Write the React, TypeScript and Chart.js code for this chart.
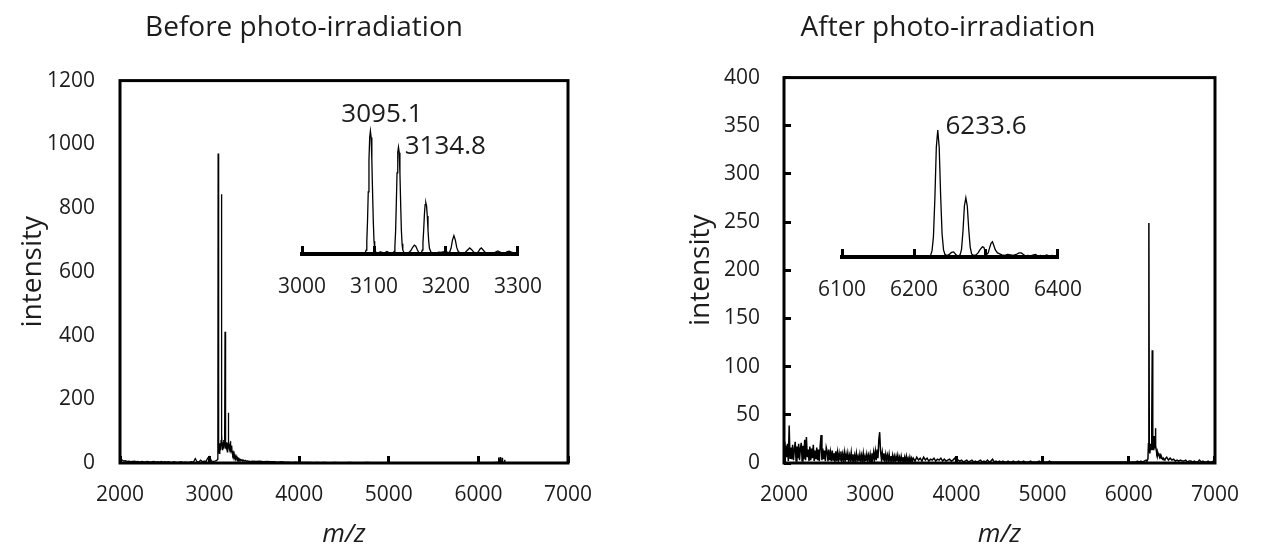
import React, { useEffect, useRef } from "react";
import { Chart, registerables } from "chart.js";

Chart.register(...registerables);

const FONT = "'Open Sans', 'Noto Sans', 'DejaVu Sans', sans-serif";
const INK = "#000000";
const TEXT = "#1c1c1c";

// ---------------- texts ----------------
const beforeTitle = "Before photo-irradiation";
const afterTitle = "After photo-irradiation";
const yTitle = "intensity";
const xTitle = "m/z";
const beforeLabelledPeaks = ["3095.1", "3134.8"];
const afterLabelledPeaks = ["6233.6"];

// ---------------- axis ranges ----------------
const mainMzRange = [2000, 7000];
const mainMzStep = 1000;
const beforeIntensityRange = [0, 1200];
const beforeIntensityStep = 200;
const afterIntensityRange = [0, 400];
const afterIntensityStep = 50;
const beforeInsetMzRange = [3000, 3300];
const afterInsetMzRange = [6100, 6400];
const insetMzStep = 100;

// ---------------- BEFORE: main spectrum ----------------
// baseline read every 20 m/z from 2000 to 3080
const beforeBaseStart = 2000;
const beforeBaseStep = 20;
const beforeBase = [
  8, 10, 6, 7, 5, 6, 4, 5, 6, 4,
  5, 3, 5, 4, 3, 5, 4, 3, 4, 5,
  3, 4, 3, 5, 3, 4, 3, 4, 3, 2,
  4, 3, 2, 3, 4, 2, 3, 3, 2, 3,
  4, 3, 14, 4, 3, 9, 4, 6, 5, 16,
  20, 6, 5, 6, 8,
];
// peak cluster (m/z, intensity)
const beforePeaks = [
  [3088, 12], [3092, 60], [3095, 971], [3098, 70], [3101, 40], [3104, 55], [3108, 30],
  [3112, 62], [3116, 35], [3120, 58], [3124, 40], [3128, 70], [3131, 120], [3134, 843],
  [3137, 90], [3140, 55], [3144, 65], [3148, 40], [3152, 60], [3156, 72], [3160, 45],
  [3164, 55], [3168, 90], [3172, 412], [3175, 80], [3178, 60], [3182, 45], [3186, 65],
  [3190, 40], [3194, 50], [3198, 35], [3202, 45], [3206, 60], [3208, 80], [3211, 158],
  [3214, 70], [3218, 45], [3222, 60], [3226, 40], [3230, 55], [3233, 68], [3236, 45],
  [3240, 35], [3244, 40], [3249, 55], [3252, 30], [3256, 38], [3260, 25], [3265, 32],
  [3270, 22], [3275, 28], [3280, 18], [3285, 22], [3290, 15], [3296, 20], [3300, 14],
  [3306, 18], [3312, 12], [3318, 15], [3324, 10], [3330, 13], [3338, 9], [3346, 11],
  [3354, 8], [3362, 10], [3370, 7], [3380, 9], [3390, 6], [3400, 8], [3410, 5],
  [3420, 7], [3430, 5], [3440, 6], [3450, 4],
];
// tail read every 40 m/z from 3480 to 7000
const beforeTailStart = 3480;
const beforeTailStep = 40;
const beforeTail = [
  6, 5, 6, 4, 5, 4, 4, 3, 4, 3,
  3, 2, 3, 2, 2, 2, 2, 1, 2, 1,
  2, 1, 1, 2, 1, 1, 1, 2, 1, 1,
  1, 1, 2, 1, 1, 1, 1, 1, 1, 1,
  1, 1, 1, 1, 1, 1, 1, 1, 1, 1,
  1, 1, 1, 1, 1, 1, 1, 1, 1, 1,
  1, 1, 1, 1, 1, 1, 1, 1, 2, 1,
  1, 1, 1, 1, 1, 1, 1, 1, 1, 1,
  1, 1, 1, 1, 1, 1, 1, 1, 1,
];
const beforeMinorPeaks = [
  [6222, 2], [6226, 17], [6230, 2], [6240, 3], [6244, 19], [6248, 2],
  [6262, 2], [6266, 16], [6270, 2], [6290, 2], [6294, 10], [6298, 1],
];

// ---------------- BEFORE: inset 3000–3300 ----------------
const beforeInsetCurve = [
  [3086, 0], [3088, 12], [3089, 30], [3090, 100], [3091, 260], [3092, 490], [3093, 740],
  [3094, 920], [3095, 971], [3096, 920], [3097, 740], [3098, 490], [3099, 260], [3100, 100],
  [3101, 35], [3103, 8], [3105, 5], [3107, 12], [3109, 18], [3111, 12], [3114, 8],
  [3116, 14], [3118, 20], [3120, 14], [3123, 6], [3126, 5], [3128, 20], [3129, 60],
  [3130, 180], [3131, 400], [3132, 640], [3133, 800], [3134, 843], [3135, 800], [3136, 640],
  [3137, 400], [3138, 190], [3139, 80], [3140, 30], [3142, 10], [3145, 7], [3148, 10],
  [3151, 25], [3154, 55], [3156, 70], [3158, 62], [3160, 35], [3162, 14], [3164, 8],
  [3166, 12], [3167, 30], [3168, 90], [3169, 190], [3170, 310], [3171, 390], [3172, 405],
  [3173, 380], [3174, 300], [3175, 190], [3176, 100], [3177, 45], [3179, 15], [3181, 8],
  [3184, 6], [3187, 9], [3190, 14], [3193, 12], [3196, 16], [3199, 24], [3201, 18],
  [3203, 10], [3205, 14], [3207, 45], [3209, 110], [3211, 145], [3213, 110], [3215, 50],
  [3217, 20], [3220, 8], [3224, 7], [3227, 14], [3230, 32], [3233, 48], [3236, 32],
  [3239, 12], [3242, 7], [3245, 18], [3247, 38], [3249, 48], [3251, 36], [3254, 14],
  [3258, 6], [3262, 5], [3266, 8], [3269, 16], [3272, 24], [3275, 16], [3278, 7],
  [3282, 8], [3285, 18], [3288, 22], [3291, 14], [3294, 8], [3298, 4],
];

// ---------------- AFTER: main spectrum ----------------
// noise read every 10 m/z from 2000 to 3500
const afterBaseStart = 2000;
const afterBaseStep = 10;
const afterBase = [
  22, 3, 18, 6, 20, 2, 39, 5, 16, 4,
  19, 3, 14, 22, 2, 17, 5, 20, 3, 15,
  21, 2, 18, 4, 24, 3, 27, 6, 14, 2,
  17, 3, 15, 5, 19, 2, 13, 4, 16, 3,
  14, 2, 18, 29, 3, 15, 4, 13, 2, 16,
  12, 2, 14, 3, 11, 2, 13, 3, 10, 2,
  12, 2, 11, 3, 10, 3, 12, 2, 9, 3,
  11, 2, 9, 3, 10, 2, 8, 3, 11, 2,
  9, 2, 8, 2, 10, 3, 7, 2, 9, 2,
  8, 2, 10, 2, 7, 2, 9, 3, 8, 2,
  9, 2, 10, 3, 11, 4, 12, 3, 14, 5,
  24, 32, 12, 4, 11, 3, 10, 2, 9, 3,
  8, 2, 9, 2, 7, 2, 8, 2, 7, 2,
  7, 2, 8, 2, 6, 1, 7, 2, 6, 1,
  6, 1, 7, 2, 5, 1, 6, 1, 5, 2,
  5,
];
// noise read every 20 m/z from 3520 to 7000
const afterTailStart = 3520;
const afterTailStep = 20;
const afterTail = [
  2, 6, 3, 5, 2, 6, 3, 5, 2, 4,
  3, 5, 2, 4, 3, 5, 2, 4, 2, 3,
  4, 2, 3, 5, 2, 3, 2, 3, 1, 2,
  3, 1, 2, 3, 1, 2, 1, 2, 3, 1,
  2, 1, 3, 1, 2, 4, 1, 2, 1, 2,
  1, 2, 1, 1, 2, 1, 1, 2, 1, 1,
  2, 1, 1, 2, 1, 1, 1, 2, 1, 1,
  1, 1, 2, 1, 1, 1, 1, 1, 2, 1,
  1, 1, 1, 1, 1, 1, 1, 1, 1, 1,
  1, 1, 1, 1, 1, 1, 1, 1, 1, 1,
  1, 1, 1, 1, 1, 1, 1, 1, 1, 1,
  1, 1, 1, 1, 1, 1, 1, 1, 1, 1,
  1, 1, 1, 1, 1, 1, 1, 1, 1, 2,
  1, 2, 1, 2, 3, 15, 12, 10, 8, 6,
  6, 5, 4, 5, 4, 3, 6, 3, 5, 3,
  4, 2, 3, 2, 3, 2, 2, 3, 1, 2,
  2, 1, 2, 1, 1, 3, 1, 2, 1, 1,
  2, 1, 1, 2, 1,
];
const afterPeaks = [
  [6210, 2], [6222, 4], [6228, 20], [6233, 249], [6238, 15], [6242, 18], [6246, 10],
  [6250, 16], [6255, 20], [6260, 14], [6265, 22], [6268, 40], [6272, 117], [6276, 25],
  [6280, 18], [6285, 14], [6290, 20], [6296, 28], [6300, 15], [6305, 22], [6309, 36],
  [6313, 18], [6318, 14], [6324, 10], [6330, 12], [6336, 8], [6342, 10], [6350, 9],
  [6358, 6], [6366, 8], [6374, 5], [6382, 6], [6390, 4], [6400, 5], [6410, 3], [6420, 4],
];

// ---------------- AFTER: inset 6100–6400 ----------------
const afterInsetCurve = [
  [6220, 0], [6223, 3], [6225, 12], [6227, 40], [6229, 115], [6231, 215], [6233, 249],
  [6235, 215], [6237, 120], [6239, 45], [6241, 14], [6243, 5], [6246, 3], [6249, 5],
  [6252, 9], [6255, 10], [6258, 5], [6261, 2], [6264, 4], [6266, 15], [6268, 50],
  [6270, 100], [6272, 116], [6274, 100], [6276, 55], [6278, 20], [6280, 6], [6283, 3],
  [6286, 4], [6289, 8], [6292, 15], [6295, 20], [6297, 19], [6299, 10], [6301, 5],
  [6303, 8], [6305, 18], [6307, 27], [6309, 30], [6311, 22], [6313, 14], [6316, 8],
  [6319, 6], [6322, 4], [6326, 3], [6330, 5], [6334, 4], [6338, 3], [6342, 5],
  [6346, 8], [6349, 8], [6352, 5], [6355, 2], [6358, 3], [6362, 2], [6366, 4],
  [6369, 5], [6372, 2], [6376, 3], [6380, 1], [6384, 4], [6388, 2], [6392, 3],
  [6396, 1],
];

// ---------------- helpers ----------------
type P = { x: number; y: number };
const grid = (start: number, step: number, vals: number[]): P[] =>
  vals.map((v, i) => ({ x: start + i * step, y: v }));
const pairs = (arr: number[][]): P[] => arr.map(([x, y]) => ({ x, y }));
const outside = (pts: P[], ref: P[]) => {
  const lo = Math.min(...ref.map((p) => p.x));
  const hi = Math.max(...ref.map((p) => p.x));
  return pts.filter((p) => p.x < lo || p.x > hi);
};
const sortX = (pts: P[]) => pts.slice().sort((a, b) => a.x - b.x);

const beforePoints = (() => {
  const peaks = pairs(beforePeaks);
  const minor = pairs(beforeMinorPeaks);
  const tail = outside(grid(beforeTailStart, beforeTailStep, beforeTail), minor);
  return sortX([...grid(beforeBaseStart, beforeBaseStep, beforeBase), ...peaks, ...tail, ...minor]);
})();
const afterPoints = (() => {
  const peaks = pairs(afterPeaks);
  const tail = outside(grid(afterTailStart, afterTailStep, afterTail), peaks);
  return sortX([...grid(afterBaseStart, afterBaseStep, afterBase), ...tail, ...peaks]);
})();

const intLabel = (v: any) => String(v);

const framePlugin = {
  id: "frameBox",
  afterDraw(chart: any) {
    const { ctx, chartArea: a } = chart;
    ctx.save();
    ctx.strokeStyle = INK;
    ctx.lineWidth = 3;
    ctx.strokeRect(a.left, a.top, a.right - a.left, a.bottom - a.top);
    ctx.restore();
  },
};

const peakLabelPlugin = (labels: { text: string; mz: number; level: number }[], size: number) => ({
  id: "peakLabels",
  afterDatasetsDraw(chart: any) {
    const { ctx, scales } = chart;
    ctx.save();
    ctx.font = `${size}px ${FONT}`;
    ctx.fillStyle = TEXT;
    ctx.textAlign = "center";
    ctx.textBaseline = "middle";
    labels.forEach((l) => ctx.fillText(l.text, scales.x.getPixelForValue(l.mz), scales.y.getPixelForValue(l.level)));
    ctx.restore();
  },
});

function mainConfig(o: any) {
  return {
    type: "line",
    data: {
      datasets: [
        { data: o.points, borderColor: INK, borderWidth: o.lineWidth, pointRadius: 0, tension: 0, fill: false },
      ],
    },
    options: {
      animation: false,
      responsive: false,
      events: [],
      layout: { padding: o.padding },
      plugins: {
        legend: { display: false },
        tooltip: { enabled: false },
        title: {
          display: true,
          text: o.title,
          color: TEXT,
          font: { family: FONT, size: 28, weight: "normal" },
          padding: o.titlePadding,
        },
      },
      scales: {
        x: {
          type: "linear",
          min: mainMzRange[0],
          max: mainMzRange[1],
          afterFit: (s: any) => { s.height = o.xHeight; },
          ticks: { stepSize: mainMzStep, callback: intLabel, color: TEXT, font: { family: FONT, size: 21 }, padding: 26, maxRotation: 0, autoSkip: false },
          grid: { drawOnChartArea: false, drawTicks: true, tickLength: -7, tickWidth: 3, tickColor: INK },
          border: { display: false },
          title: { display: true, text: xTitle, color: TEXT, font: { family: FONT, size: 26, style: "italic" }, padding: { top: 0, bottom: 0 } },
        },
        y: {
          type: "linear",
          min: o.yRange[0],
          max: o.yRange[1],
          afterFit: (s: any) => { s.width = o.yWidth; },
          ticks: { stepSize: o.yStep, callback: intLabel, color: TEXT, font: { family: FONT, size: 21 }, padding: o.yTickPad, autoSkip: false },
          grid: { drawOnChartArea: false, drawTicks: o.yTicks, tickLength: -7, tickWidth: 3, tickColor: INK },
          border: { display: false },
          title: { display: true, text: yTitle, color: TEXT, font: { family: FONT, size: 28 }, padding: { top: o.yTitlePad, bottom: 0 } },
        },
      },
    },
    plugins: [framePlugin],
  };
}

function insetConfig(o: any) {
  return {
    type: "line",
    data: {
      datasets: [
        { data: o.points, borderColor: INK, borderWidth: 1.3, pointRadius: 0, tension: 0, fill: false },
      ],
    },
    options: {
      animation: false,
      responsive: false,
      events: [],
      layout: { padding: o.padding },
      plugins: { legend: { display: false }, tooltip: { enabled: false }, title: { display: false } },
      scales: {
        x: {
          type: "linear",
          min: o.xRange[0],
          max: o.xRange[1],
          afterFit: (s: any) => { s.height = o.xHeight; },
          ticks: { stepSize: insetMzStep, callback: intLabel, color: TEXT, font: { family: FONT, size: 21 }, padding: 28, maxRotation: 0, autoSkip: false },
          grid: { drawOnChartArea: false, drawTicks: true, tickLength: -8, tickWidth: 3, tickColor: INK },
          border: { display: true, color: INK, width: 4 },
        },
        y: { type: "linear", display: false, min: 0, max: o.yMax },
      },
    },
    plugins: [peakLabelPlugin(o.labels, 26)],
  };
}

function ChartCanvas({ config, left, top, width, height }: any) {
  const ref = useRef<HTMLCanvasElement>(null);
  useEffect(() => {
    const chart = new Chart(ref.current as HTMLCanvasElement, config);
    return () => chart.destroy();
  }, []);
  return (
    <canvas
      ref={ref}
      width={width}
      height={height}
      style={{ position: "absolute", left, top, width, height, display: "block" }}
    />
  );
}

export default function App() {
  const beforeMain = mainConfig({
    points: beforePoints,
    title: beforeTitle,
    lineWidth: 1.3,
    padding: { left: 40, right: 64, top: 0, bottom: 0 },
    titlePadding: { top: 11, bottom: 36 },
    xHeight: 87,
    yWidth: 80,
    yRange: beforeIntensityRange,
    yStep: beforeIntensityStep,
    yTicks: false,
    yTickPad: 25,
    yTitlePad: -24,
  });
  const afterMain = mainConfig({
    points: afterPoints,
    title: afterTitle,
    lineWidth: 1.5,
    padding: { left: 29, right: 30, top: 0, bottom: 0 },
    titlePadding: { top: 11, bottom: 33 },
    xHeight: 87,
    yWidth: 123,
    yRange: afterIntensityRange,
    yStep: afterIntensityStep,
    yTicks: true,
    yTickPad: 31,
    yTitlePad: 23,
  });
  const beforeInset = insetConfig({
    points: pairs(beforeInsetCurve),
    xRange: beforeInsetMzRange,
    yMax: 1200,
    padding: { left: 36, right: 42, top: 12, bottom: 0 },
    xHeight: 61,
    labels: [
      { text: beforeLabelledPeaks[0], mz: 3111, level: 1097 },
      { text: beforeLabelledPeaks[1], mz: 3199, level: 845 },
    ],
  });
  const afterInset = insetConfig({
    points: pairs(afterInsetCurve),
    xRange: afterInsetMzRange,
    yMax: 300,
    padding: { left: 36, right: 31, top: 14, bottom: 0 },
    xHeight: 58,
    labels: [{ text: afterLabelledPeaks[0], mz: 6300, level: 255 }],
  });

  return (
    <div style={{ position: "absolute", left: 0, top: 0, width: 1265, height: 550, background: "#ffffff", overflow: "hidden" }}>
      <ChartCanvas config={beforeMain} left={0} top={0} width={632} height={550} />
      <ChartCanvas config={afterMain} left={632} top={0} width={633} height={550} />
      <ChartCanvas config={beforeInset} left={250} top={90} width={320} height={225} />
      <ChartCanvas config={afterInset} left={790} top={90} width={320} height={225} />
    </div>
  );
}
